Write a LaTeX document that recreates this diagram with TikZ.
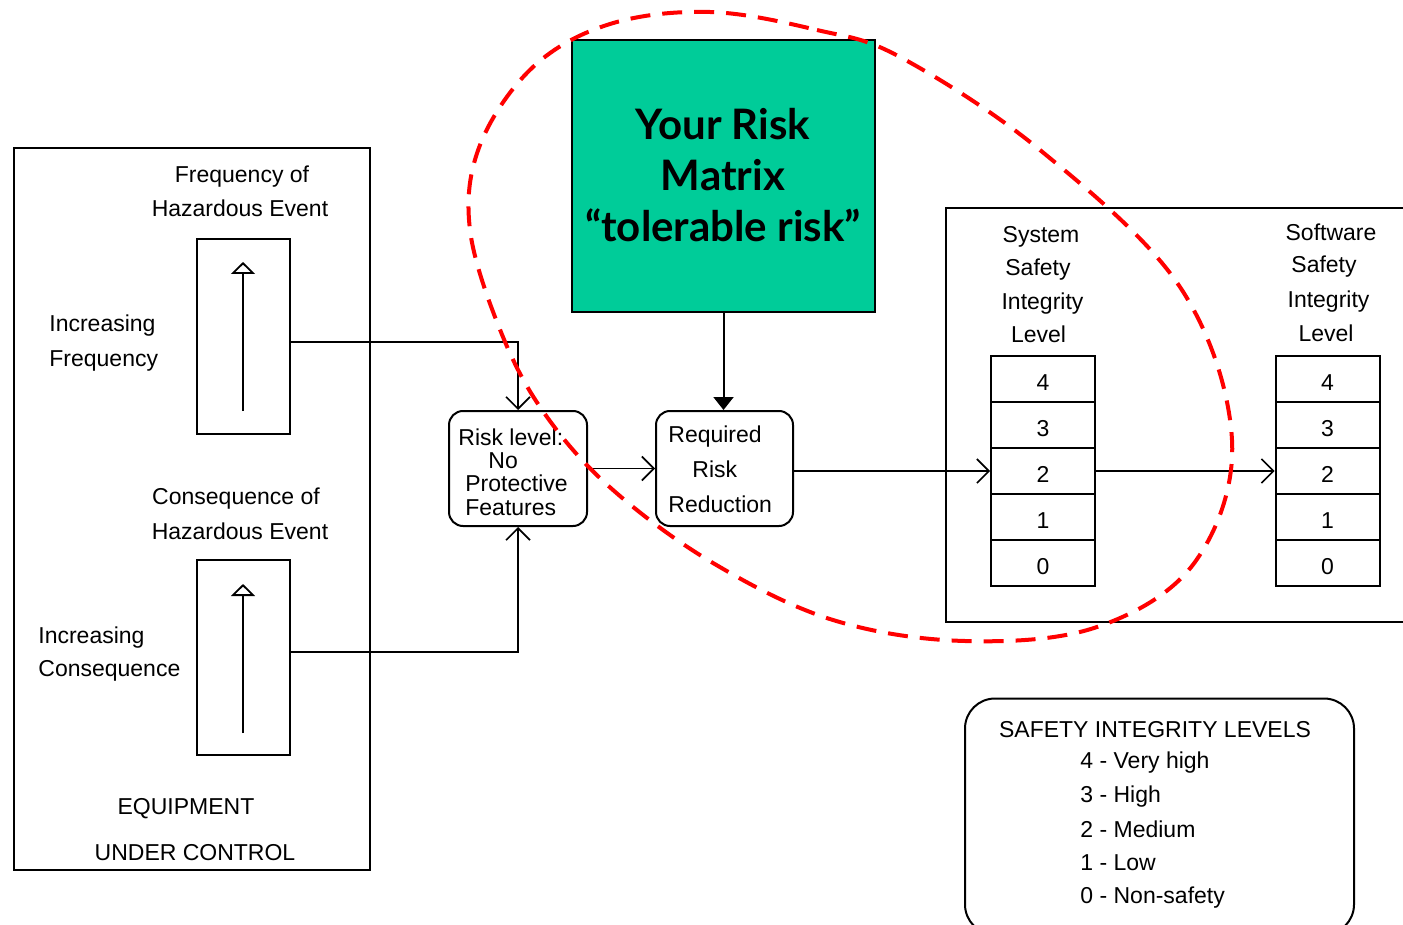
\documentclass[tikz,border=0pt]{standalone}
\usepackage{fontspec}
\setmainfont{Liberation Sans}
\newfontfamily\titlefont{Lato}
\usetikzlibrary{arrows.meta}
\definecolor{riskgreen}{HTML}{00CC99}
\definecolor{dashred}{HTML}{FF0000}
\begin{document}
\begin{tikzpicture}[x=0.5pt,y=-0.5pt,
  font=\fontsize{11.5pt}{14pt}\selectfont,
  box/.style={draw, line width=1pt, inner sep=0},
  rbox/.style={box, rounded corners=7pt},
  cell/.style={box, minimum width=52pt, minimum height=23pt, text height=11pt, text depth=0pt},
  tx/.style={inner sep=0, anchor=base},
  txl/.style={inner sep=0, anchor=base west},
  ttl/.style={inner sep=0, anchor=base, font=\titlefont\bfseries\fontsize{21pt}{26pt}\selectfont},
  conn/.style={line width=0.8pt, -{Straight Barb[length=6pt,width=12pt]}},
  solidarrow/.style={line width=1pt, -{Triangle[length=6.5pt,width=10pt]}},
  uparrow/.style={line width=0.9pt, -{Triangle[open,length=6pt,width=12pt]}},
  redline/.style={draw=dashred, line width=2pt, dash pattern=on 10pt off 6pt}
]
\useasboundingbox (0,0) rectangle (1403,925);

% left box: equipment under control
\node[box, minimum width=178pt, minimum height=361pt] (euc) at (192,509) {};
\node[tx] (t1) at (242,183) {Frequency of};
\node[tx] (t2) at (240,217) {Hazardous Event};
\node[txl] (t3) at (49,332) {Increasing};
\node[txl] (t4) at (49,366) {Frequency};
\node[tx] (t5) at (236,504) {Consequence of};
\node[tx] (t6) at (240,539) {Hazardous Event};
\node[txl] (t7) at (38,643) {Increasing};
\node[txl] (t8) at (38,676) {Consequence};
\node[tx] (t9) at (186,814) {EQUIPMENT};
\node[tx] (t10) at (195,860) {UNDER CONTROL};

\node[box, minimum width=46.5pt, minimum height=97.5pt] (fbox) at (243.5,336.5) {};
\node[box, minimum width=46.5pt, minimum height=97.5pt] (cbox) at (243.5,657.5) {};
\coordinate (fa1) at (243,411);
\coordinate (fa2) at (243,262);
\coordinate (ca1) at (243,733);
\coordinate (ca2) at (243,584);
\draw[uparrow] (fa1) -- (fa2);
\draw[uparrow] (ca1) -- (ca2);

% risk level box
\node[rbox, minimum width=69pt, minimum height=57.5pt] (risk) at (518,468.5) {};
\node[txl] (r1) at (458,445) {Risk level:};
\node[txl] (r2) at (488,468) {No};
\node[txl] (r3) at (465,491) {Protective};
\node[txl] (r4) at (465,515) {Features};

% required risk reduction
\node[rbox, minimum width=68.5pt, minimum height=57.5pt] (req) at (724.5,468.5) {};
\node[txl] (q1) at (668,442) {Required};
\node[txl] (q2) at (692,477) {Risk};
\node[txl] (q3) at (668,512) {Reduction};

% green box
\node[box, fill=riskgreen, minimum width=151.5pt, minimum height=136pt] (green) at (723.5,176) {};
\node[ttl] (g1) at (723,140) {Your Risk};
\node[ttl] (g2) at (723,191) {Matrix};
\node[ttl] (g3) at (723,242) {“tolerable risk”};

% right box
\node[box, minimum width=237pt, minimum height=207pt] (right) at (1183,415) {};
\node[tx] (s1) at (1041,243) {System};
\node[tx] (s2) at (1038,276) {Safety};
\node[tx] (s3) at (1042.5,310) {Integrity};
\node[tx] (s4) at (1038.5,343) {Level};
\node[tx] (w1) at (1331,241) {Software};
\node[tx] (w2) at (1324,273) {Safety};
\node[tx] (w3) at (1328.5,307) {Integrity};
\node[tx] (w4) at (1326,342) {Level};

\node[cell] (sc4) at (1043,379) {4};
\node[cell] (sc3) at (1043,425) {3};
\node[cell] (sc2) at (1043,471) {2};
\node[cell] (sc1) at (1043,517) {1};
\node[cell] (sc0) at (1043,563) {0};
\node[cell] (wc4) at (1327.5,379) {4};
\node[cell] (wc3) at (1327.5,425) {3};
\node[cell] (wc2) at (1327.5,471) {2};
\node[cell] (wc1) at (1327.5,517) {1};
\node[cell] (wc0) at (1327.5,563) {0};

% legend
\node[box, rounded corners=15pt, minimum width=194.5pt, minimum height=118pt] (legend) at (1159.5,816.5) {};
\node[tx] (l0) at (1155,737) {SAFETY INTEGRITY LEVELS};
\node[txl] (l1) at (1080,768) {4 - Very high};
\node[txl] (l2) at (1080,802) {3 - High};
\node[txl] (l3) at (1080,837) {2 - Medium};
\node[txl] (l4) at (1080,870) {1 - Low};
\node[txl] (l5) at (1080,903) {0 - Non-safety};

% connectors
\coordinate (fy) at (0,342);
\coordinate (cy) at (0,652);
\draw[conn] (fbox.east |- fy) -- (risk.north |- fy) -- (risk.north);
\draw[conn] (cbox.east |- cy) -- (risk.south |- cy) -- (risk.south);
\draw[conn] (risk.east) -- (req.west);
\draw[solidarrow] (green.south) -- (green.south |- req.north);
\draw[conn] (req.east |- sc2.west) -- (sc2.west);
\draw[conn] (sc2.east) -- (wc2.west);

% red dashed boundary
\draw[redline] plot[smooth cycle, tension=0.6] coordinates {
 (710,12) (817,30) (900,57) (1040,150) (1180,287) (1232,440)
 (1195,562) (1097,627) (965,641) (833,620) (713,563) (613,490)
 (547,417) (503,337) (470,230) (480,145) (533,67) (610,24)};
\end{tikzpicture}
\end{document}
